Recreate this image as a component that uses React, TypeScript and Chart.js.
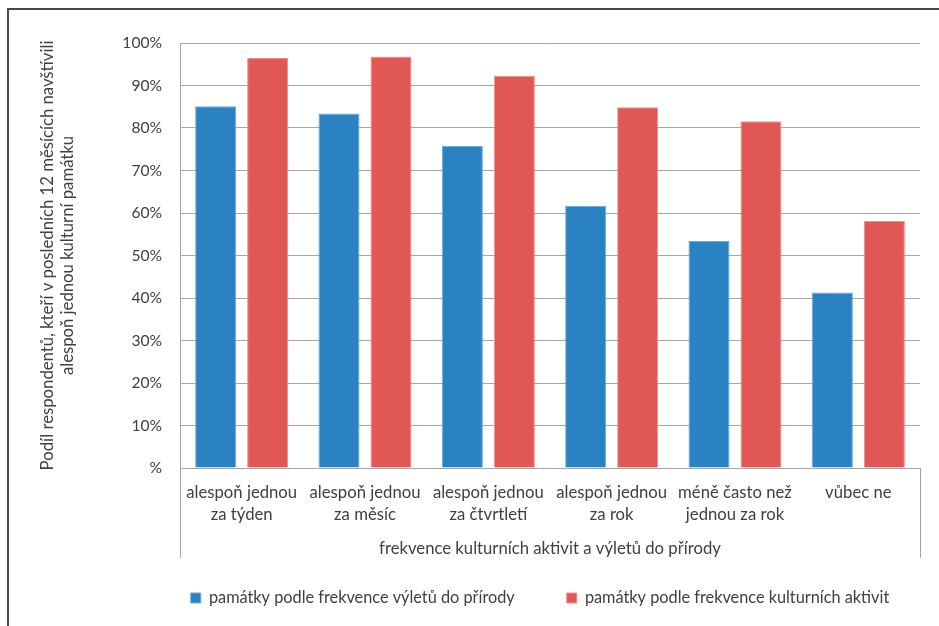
import { useEffect, useRef } from "react";
import { Chart, registerables } from "chart.js";

Chart.register(...registerables);

const categories: string[][] = [
  ["alespoň jednou", "za týden"],
  ["alespoň jednou", "za měsíc"],
  ["alespoň jednou", "za čtvrtletí"],
  ["alespoň jednou", "za rok"],
  ["méně často než", "jednou za rok"],
  ["vůbec ne"],
];
const byNatureTrips = [85.1, 83.4, 75.8, 61.7, 53.4, 41.3];
const byCulturalActivities = [96.5, 96.8, 92.3, 84.9, 81.6, 58.1];
const seriesLabels = [
  "památky podle frekvence výletů do přírody",
  "památky podle frekvence kulturních aktivit",
];
const yTickValues = [0, 10, 20, 30, 40, 50, 60, 70, 80, 90, 100];
const yTickLabels = ["%", "10%", "20%", "30%", "40%", "50%", "60%", "70%", "80%", "90%", "100%"];
const yAxisTitle = [
  "Podíl respondentů, kteří v posledních 12 měsících navštívili",
  "alespoň jednou kulturní památku",
];
const xAxisTitle = "frekvence kulturních aktivit a výletů do přírody";

const FONT = "Lato, 'Liberation Sans', sans-serif";
const TEXT = "#404040";
const GRID = "#a6a6a6";
const SIZE = 16.7;
const LEGEND_SIZE = 16.3;

const axisBoxPlugin = {
  id: "axisBox",
  afterDraw(chart: any) {
    const { ctx, chartArea } = chart;
    const align = (p: number) => Math.round(p - 0.5) + 0.5;
    ctx.save();
    ctx.strokeStyle = GRID;
    ctx.lineWidth = 1;
    [chartArea.left, chartArea.right].forEach((x: number) => {
      ctx.beginPath();
      ctx.moveTo(align(x), chartArea.bottom);
      ctx.lineTo(align(x), chartArea.bottom + 90);
      ctx.stroke();
    });
    ctx.restore();
  },
};

const legendShiftPlugin = {
  id: "legendShift",
  afterLayout(chart: any) {
    const lg = chart.legend;
    if (lg) {
      lg.left += 80;
      lg.right += 80;
    }
  },
};

export default function App() {
  const ref = useRef<HTMLCanvasElement>(null);

  useEffect(() => {
    if (!ref.current) return;
    const chart = new Chart(ref.current, {
      type: "bar",
      data: {
        labels: categories,
        datasets: [
          {
            label: seriesLabels[0],
            data: byNatureTrips,
            backgroundColor: "#2A82C2",
            borderColor: "#6AA9D8",
            borderWidth: 1,
            categoryPercentage: 0.843,
            barPercentage: 0.79,
          },
          {
            label: seriesLabels[1],
            data: byCulturalActivities,
            backgroundColor: "#E05756",
            borderColor: "#EE8E8D",
            borderWidth: 1,
            categoryPercentage: 0.843,
            barPercentage: 0.79,
          },
        ],
      },
      options: {
        animation: false,
        responsive: false,
        maintainAspectRatio: false,
        devicePixelRatio: 1,
        layout: { padding: { left: 0, right: 19, top: 43, bottom: 9.85 } },
        plugins: {
          legend: {
            position: "bottom",
            fullSize: true,
            labels: {
              boxWidth: 10,
              boxHeight: 10,
              padding: 52,
              color: TEXT,
              font: { family: FONT, size: LEGEND_SIZE },
            },
          },
          tooltip: { enabled: false },
        },
        scales: {
          x: {
            grid: { display: false, drawTicks: false },
            border: { display: true, color: GRID, width: 1 },
            ticks: {
              color: TEXT,
              font: { family: FONT, size: SIZE, lineHeight: 1.28 },
              padding: 14.3,
              autoSkip: false,
              maxRotation: 0,
            },
            title: {
              display: true,
              text: xAxisTitle,
              color: TEXT,
              font: { family: FONT, size: SIZE, lineHeight: 1.2 },
              padding: { top: 0, bottom: -21.15 },
            },
            afterFit(scale: any) {
              scale.height = 69.85;
            },
          },
          y: {
            min: 0,
            max: 100,
            afterBuildTicks(scale: any) {
              scale.ticks = yTickValues.map((v) => ({ value: v }));
            },
            grid: { color: GRID, drawTicks: false, lineWidth: 1 },
            border: { display: true, color: GRID, width: 1 },
            ticks: {
              color: TEXT,
              font: { family: FONT, size: 15.6 },
              padding: 18,
              callback: (value: any) => yTickLabels[yTickValues.indexOf(Number(value))],
            },
            title: {
              display: true,
              text: yAxisTitle,
              color: TEXT,
              font: { family: FONT, size: SIZE, lineHeight: 1.2 },
              padding: { top: 38, bottom: 0 },
            },
            afterFit(scale: any) {
              scale.width = 180;
            },
          },
        },
      },
      plugins: [axisBoxPlugin, legendShiftPlugin],
    });
    return () => chart.destroy();
  }, []);

  return (
    <div
      style={{
        position: "fixed",
        left: 0,
        top: 0,
        width: 939,
        height: 626,
        overflow: "hidden",
        background: "#ffffff",
      }}
    >
      <div
        style={{
          position: "absolute",
          left: 7,
          top: 8,
          width: 1000,
          height: 1000,
          borderLeft: "2px solid #4a4a4a",
          borderTop: "2px solid #4a4a4a",
        }}
      />
      <canvas
        ref={ref}
        width={939}
        height={626}
        style={{ position: "absolute", left: 0, top: 0, width: 939, height: 626 }}
      />
    </div>
  );
}
